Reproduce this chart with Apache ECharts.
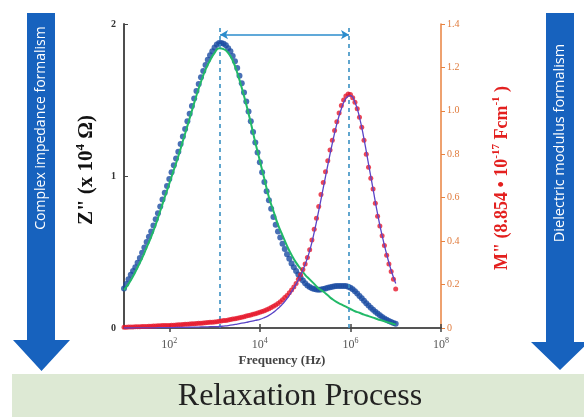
<!DOCTYPE html>
<html>
<head>
<meta charset="utf-8">
<script src="https://cdn.jsdelivr.net/npm/echarts@6/dist/echarts.min.js"></script>
<style>
  html, body { margin: 0; padding: 0; background: #ffffff; }
  #chart { width: 584px; height: 417px; }
</style>
</head>
<body>
<div id="chart"></div>
<script>
// Measurement frequencies (log10 of Hz), shared by both measured spectra
const logFreq = [
  1.00, 1.05, 1.10, 1.15, 1.20, 1.25, 1.30, 1.35, 1.40, 1.45,
  1.50, 1.55, 1.60, 1.65, 1.70, 1.75, 1.80, 1.85, 1.90, 1.95,
  2.00, 2.05, 2.10, 2.15, 2.20, 2.25, 2.30, 2.35, 2.40, 2.45,
  2.50, 2.55, 2.60, 2.65, 2.70, 2.75, 2.80, 2.85, 2.90, 2.95,
  3.00, 3.05, 3.10, 3.15, 3.20, 3.25, 3.30, 3.35, 3.40, 3.45,
  3.50, 3.55, 3.60, 3.65, 3.70, 3.75, 3.80, 3.85, 3.90, 3.95,
  4.00, 4.05, 4.10, 4.15, 4.20, 4.25, 4.30, 4.35, 4.40, 4.45,
  4.50, 4.55, 4.60, 4.65, 4.70, 4.75, 4.80, 4.85, 4.90, 4.95,
  5.00, 5.05, 5.10, 5.15, 5.20, 5.25, 5.30, 5.35, 5.40, 5.45,
  5.50, 5.55, 5.60, 5.65, 5.70, 5.75, 5.80, 5.85, 5.90, 5.95,
  6.00, 6.05, 6.10, 6.15, 6.20, 6.25, 6.30, 6.35, 6.40, 6.45,
  6.50, 6.55, 6.60, 6.65, 6.70, 6.75, 6.80, 6.85, 6.90, 6.95,
  7.00
];

// Z'' measured (x 10^4 ohm)
const zImagMeasured = [
  0.26, 0.29, 0.32, 0.35, 0.375, 0.40, 0.43, 0.46, 0.495, 0.53,
  0.565, 0.60, 0.635, 0.675, 0.715, 0.755, 0.80, 0.845, 0.89, 0.935,
  0.98, 1.025, 1.07, 1.115, 1.16, 1.21, 1.26, 1.31, 1.36, 1.41,
  1.46, 1.51, 1.56, 1.605, 1.65, 1.69, 1.73, 1.765, 1.795, 1.82,
  1.845, 1.865, 1.875, 1.875, 1.87, 1.86, 1.84, 1.82, 1.79, 1.755,
  1.71, 1.66, 1.61, 1.55, 1.49, 1.425, 1.36, 1.29, 1.22, 1.155,
  1.09, 1.025, 0.96, 0.90, 0.84, 0.785, 0.73, 0.68, 0.635, 0.595,
  0.555, 0.52, 0.485, 0.455, 0.425, 0.40, 0.375, 0.352, 0.33, 0.312,
  0.295, 0.28, 0.27, 0.262, 0.256, 0.253, 0.252, 0.253, 0.256, 0.26,
  0.264, 0.268, 0.271, 0.274, 0.276, 0.277, 0.277, 0.277, 0.276, 0.272,
  0.265, 0.255, 0.242, 0.227, 0.211, 0.195, 0.179, 0.163, 0.148, 0.134,
  0.12, 0.107, 0.095, 0.084, 0.073, 0.063, 0.054, 0.046, 0.039, 0.033,
  0.028
];

// M'' measured (x 8.854e-17 F/cm)
const mImagMeasured = [
  0.004, 0.004, 0.005, 0.005, 0.005, 0.006, 0.006, 0.006, 0.007, 0.007,
  0.007, 0.008, 0.008, 0.009, 0.009, 0.010, 0.010, 0.011, 0.011, 0.012,
  0.012, 0.013, 0.013, 0.014, 0.015, 0.015, 0.016, 0.017, 0.017, 0.018,
  0.019, 0.020, 0.021, 0.022, 0.022, 0.023, 0.024, 0.025, 0.026, 0.027,
  0.028, 0.029, 0.031, 0.032, 0.034, 0.035, 0.037, 0.039, 0.041, 0.043,
  0.045, 0.047, 0.050, 0.052, 0.055, 0.057, 0.060, 0.063, 0.066, 0.069,
  0.072, 0.076, 0.080, 0.084, 0.089, 0.094, 0.100, 0.106, 0.113, 0.121,
  0.130, 0.140, 0.150, 0.162, 0.175, 0.189, 0.205, 0.224, 0.245, 0.269,
  0.295, 0.325, 0.36, 0.405, 0.455, 0.505, 0.56, 0.615, 0.67, 0.72,
  0.77, 0.82, 0.865, 0.91, 0.95, 0.99, 1.025, 1.05, 1.068, 1.078,
  1.075, 1.06, 1.04, 1.01, 0.97, 0.925, 0.865, 0.80, 0.74, 0.69,
  0.64, 0.575, 0.515, 0.47, 0.425, 0.38, 0.335, 0.295, 0.26, 0.225,
  0.18
];

// Fitted curves, sampled at log10(f) steps of 0.1
const fitLogFreq = [
  1.0, 1.1, 1.2, 1.3, 1.4, 1.5, 1.6, 1.7, 1.8, 1.9,
  2.0, 2.1, 2.2, 2.3, 2.4, 2.5, 2.6, 2.7, 2.8, 2.9,
  3.0, 3.1, 3.2, 3.3, 3.4, 3.5, 3.6, 3.7, 3.8, 3.9,
  4.0, 4.1, 4.2, 4.3, 4.4, 4.5, 4.6, 4.7, 4.8, 4.9,
  5.0, 5.1, 5.2, 5.3, 5.4, 5.5, 5.6, 5.7, 5.8, 5.9,
  6.0, 6.1, 6.2, 6.3, 6.4, 6.5, 6.6, 6.7, 6.8, 6.9,
  7.0
];
const zImagFit = [
  0.25, 0.29, 0.34, 0.40, 0.46, 0.53, 0.60, 0.68, 0.77, 0.86,
  0.95, 1.04, 1.13, 1.23, 1.33, 1.43, 1.53, 1.62, 1.70, 1.76,
  1.81, 1.84, 1.835, 1.81, 1.76, 1.68, 1.58, 1.47, 1.35, 1.22,
  1.10, 0.98, 0.86, 0.77, 0.68, 0.61, 0.54, 0.48, 0.43, 0.39,
  0.35, 0.32, 0.29, 0.26, 0.24, 0.215, 0.19, 0.17, 0.155, 0.14,
  0.125, 0.11, 0.10, 0.088, 0.078, 0.068, 0.058, 0.049, 0.04, 0.031,
  0.022
];
const mImagFit = [
  0.000, 0.000, 0.000, 0.001, 0.001, 0.001, 0.001, 0.001, 0.002, 0.002,
  0.002, 0.002, 0.003, 0.003, 0.003, 0.004, 0.004, 0.005, 0.005, 0.006,
  0.006, 0.007, 0.009, 0.011, 0.014, 0.018, 0.022, 0.026, 0.030, 0.035,
  0.040, 0.048, 0.058, 0.072, 0.090, 0.110, 0.135, 0.167, 0.202, 0.243,
  0.293, 0.355, 0.44, 0.54, 0.645, 0.75, 0.85, 0.94, 1.01, 1.058,
  1.07, 1.04, 0.97, 0.87, 0.755, 0.64, 0.525, 0.425, 0.34, 0.265,
  0.205
];

// Axis ticks
const freqTicks = [1e2, 1e4, 1e6, 1e8];

// Relaxation peak frequencies (Hz) and the level of the span arrow (Z'' units)
const peakFreqZ = 1.32e3;
const peakFreqM = 9.3e5;
const spanLevel = 1.93;

const toPoints = (xs, ys) => xs.map((e, i) => [Math.pow(10, e), ys[i]]);

const serif = '"Liberation Serif", "DejaVu Serif", serif';
const sans = '"Open Sans", "Noto Sans", sans-serif';
const arrowBlue = '#1762be';
const supStyle = (size, color) => ({
  fontSize: size, fontFamily: serif, fontWeight: 'bold', color: color, padding: [0, 0, size, 0]
});

const chart = echarts.init(document.getElementById('chart'), null, { renderer: 'canvas' });

const option = {
  animation: false,
  backgroundColor: '#ffffff',
  grid: { left: 124, right: 143, top: 24, bottom: 89, containLabel: false },
  xAxis: [
    {
      type: 'log', logBase: 10, min: 10, max: 1e8, position: 'bottom',
      axisLine: { lineStyle: { color: '#555555', width: 2 } },
      axisTick: { inside: true, length: 4, customValues: freqTicks, lineStyle: { color: '#444', width: 1.5 } },
      splitLine: { show: false },
      minorTick: { show: false },
      axisLabel: {
        customValues: freqTicks,
        margin: 9,
        color: '#555555',
        fontFamily: serif,
        fontSize: 12,
        formatter: v => '10{sup|' + Math.round(Math.log10(v)) + '}',
        rich: { sup: { fontSize: 8, fontFamily: serif, color: '#555555', padding: [0, 0, 7, 0] } }
      }
    },
    {
      type: 'log', logBase: 10, min: 10, max: 1e8, position: 'top',
      axisLine: { lineStyle: { color: '#555555', width: 2 } },
      axisTick: { inside: true, length: 4, customValues: freqTicks, lineStyle: { color: '#444', width: 1.5 } },
      axisLabel: { show: false },
      splitLine: { show: false }
    }
  ],
  yAxis: [
    {
      type: 'value', min: 0, max: 2, interval: 1, position: 'left',
      axisLine: { show: true, lineStyle: { color: '#4d4d4d', width: 2 } },
      axisTick: { show: true, inside: true, length: 4, lineStyle: { color: '#444' } },
      splitLine: { show: false },
      axisLabel: { color: '#333333', fontFamily: serif, fontWeight: 'bold', fontSize: 10, margin: 8 }
    },
    {
      type: 'value', min: 0, max: 1.4, interval: 0.2, position: 'right',
      axisLine: { show: true, lineStyle: { color: '#e8823f', width: 1.5 } },
      axisTick: { show: true, inside: false, length: 4, lineStyle: { color: '#e8823f' } },
      splitLine: { show: false },
      axisLabel: {
        color: '#e07b3c', fontFamily: serif, fontSize: 10, margin: 6,
        formatter: v => (v === 0 ? '0' : v.toFixed(1))
      }
    }
  ],
  series: [
    {
      name: "Z'' measured",
      type: 'scatter', xAxisIndex: 0, yAxisIndex: 0,
      symbol: 'circle', symbolSize: 6,
      itemStyle: { color: '#1b4ca3' },
      data: toPoints(logFreq, zImagMeasured),
      markLine: {
        silent: true, animation: false,
        label: { show: false },
        symbol: ['arrow', 'arrow'], symbolSize: [7, 8],
        lineStyle: { color: '#2b8ccc', width: 1.5, type: 'solid' },
        data: [[{ coord: [peakFreqZ, spanLevel] }, { coord: [peakFreqM, spanLevel] }]]
      },
      z: 3
    },
    {
      name: "Z'' fit",
      type: 'line', xAxisIndex: 0, yAxisIndex: 0,
      smooth: true, showSymbol: false, symbol: 'none',
      lineStyle: { color: '#22b968', width: 2 },
      data: toPoints(fitLogFreq, zImagFit),
      markLine: {
        silent: true, animation: false,
        label: { show: false },
        symbol: ['none', 'none'],
        lineStyle: { color: '#3a90c2', width: 1.6, type: [4, 4] },
        data: [{ xAxis: peakFreqZ }, { xAxis: peakFreqM }]
      },
      z: 4
    },
    {
      name: "M'' measured",
      type: 'scatter', xAxisIndex: 0, yAxisIndex: 1,
      symbol: 'circle', symbolSize: 5,
      itemStyle: { color: '#e6182c' },
      data: toPoints(logFreq, mImagMeasured),
      z: 5
    },
    {
      name: "M'' fit",
      type: 'line', xAxisIndex: 0, yAxisIndex: 1,
      smooth: true, showSymbol: false, symbol: 'none',
      lineStyle: { color: '#5a44c6', width: 1.3 },
      data: toPoints(fitLogFreq, mImagFit),
      z: 6
    }
  ],
  graphic: [
    // left arrow: complex impedance formalism
    {
      type: 'polygon', z: 1,
      shape: { points: [[27, 13], [55, 13], [55, 340], [70, 340], [41.5, 371], [13, 340], [27, 340]] },
      style: { fill: arrowBlue }
    },
    {
      type: 'text', x: 41, y: 128, rotation: Math.PI / 2, z: 2,
      style: {
        text: 'Complex impedance formalism',
        fontFamily: sans, fontSize: 14,
        fill: '#ffffff', align: 'center', verticalAlign: 'middle'
      }
    },
    // right arrow: dielectric modulus formalism
    {
      type: 'polygon', z: 1,
      shape: { points: [[546, 13], [574, 13], [574, 342], [589, 342], [560, 370], [531, 342], [546, 342]] },
      style: { fill: arrowBlue }
    },
    {
      type: 'text', x: 560, y: 143, rotation: Math.PI / 2, z: 2,
      style: {
        text: 'Dielectric modulus formalism',
        fontFamily: sans, fontSize: 14.5,
        fill: '#ffffff', align: 'center', verticalAlign: 'middle'
      }
    },
    // bottom band
    {
      type: 'rect', z: 0,
      shape: { x: 12, y: 374, width: 572, height: 43 },
      style: { fill: '#dde9d4' }
    },
    {
      type: 'text', x: 300, y: 397, z: 2,
      style: {
        text: 'Relaxation Process',
        fontFamily: serif, fontSize: 32,
        fill: '#222222', align: 'center', verticalAlign: 'middle'
      }
    },
    // axis titles
    {
      type: 'text', x: 282, y: 361, z: 2,
      style: {
        text: 'Frequency (Hz)',
        fontFamily: serif, fontSize: 13, fontWeight: 'bold',
        fill: '#444444', align: 'center', verticalAlign: 'middle'
      }
    },
    {
      type: 'text', x: 87, y: 170, rotation: Math.PI / 2, z: 2,
      style: {
        text: 'Z" (x 10{sup|4} \u03A9)',
        fontFamily: serif, fontSize: 21, fontWeight: 'bold',
        fill: '#111111', align: 'center', verticalAlign: 'middle',
        rich: { sup: supStyle(13, '#111111') }
      }
    },
    {
      type: 'text', x: 502, y: 178, rotation: Math.PI / 2, z: 2,
      style: {
        text: 'M" (8.854 \u2022 10{sup|-17} Fcm{sup|-1} )',
        fontFamily: serif, fontSize: 18, fontWeight: 'bold',
        fill: '#e3201f', align: 'center', verticalAlign: 'middle',
        rich: { sup: supStyle(11, '#e3201f') }
      }
    }
  ]
};

chart.setOption(option);
</script>
</body>
</html>
